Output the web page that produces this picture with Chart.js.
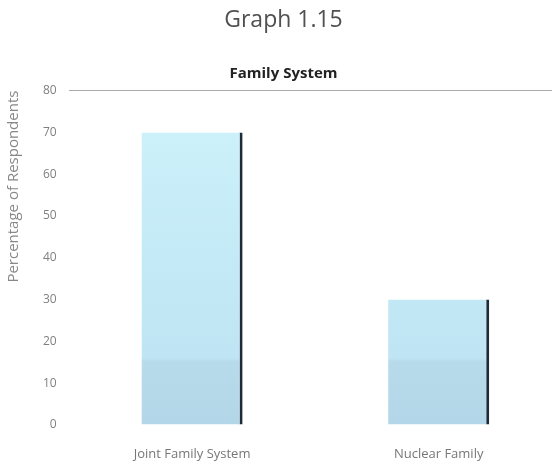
<!DOCTYPE html>
<html>
<head>
<meta charset="utf-8">
<script src="https://cdn.jsdelivr.net/npm/chart.js@4"></script>
<style>
  html, body { margin: 0; padding: 0; background: #ffffff; overflow: hidden; }
  #wrap { width: 552px; height: 466px; overflow: hidden; }
</style>
</head>
<body>
<div id="wrap"><canvas id="c" width="562" height="466"></canvas></div>
<script>
// Family system of respondents (percent)
const categories = ['Joint Family System', 'Nuclear Family'];
const percentages = [70, 30];
const yTicks = [0, 10, 20, 30, 40, 50, 60, 70, 80];

const FONT = '"Open Sans", "Liberation Sans", sans-serif';

// Soft pale-blue fill, slightly deeper toward the base
function barFill(ctx) {
  const area = ctx.chart.chartArea;
  if (!area) return '#c6ebf7';
  const g = ctx.chart.ctx.createLinearGradient(0, area.top, 0, area.bottom);
  g.addColorStop(0, '#cef3fc');
  g.addColorStop(0.55, '#c3e9f6');
  g.addColorStop(0.80, '#bfe4f3');
  g.addColorStop(0.81, '#b7dbeb');
  g.addColorStop(1, '#b3d7e8');
  return g;
}

new Chart(document.getElementById('c'), {
  type: 'bar',
  data: {
    labels: categories,
    datasets: [{
      data: percentages,
      backgroundColor: barFill,
      borderColor: '#1e2a36',
      borderWidth: { top: 0, left: 0, bottom: 0, right: 3 },
      borderSkipped: false,
      categoryPercentage: 1,
      barPercentage: 0.41
    }]
  },
  options: {
    responsive: false,
    animation: false,
    layout: { padding: { left: 5, right: 0, top: 0, bottom: 0 } },
    plugins: {
      legend: { display: false },
      tooltip: { enabled: false },
      title: {
        display: true,
        text: 'Graph 1.15',
        color: '#505050',
        font: { family: FONT, size: 23, weight: 'normal' },
        padding: { top: 7, bottom: 30 }
      },
      subtitle: {
        display: true,
        text: 'Family System',
        color: '#222222',
        font: { family: FONT, size: 15, weight: 'bold' },
        padding: { top: 0, bottom: 8 }
      }
    },
    scales: {
      x: {
        border: { display: false },
        grid: { display: false },
        afterFit: (s) => { s.height = 41; },
        ticks: {
          color: '#777777',
          padding: 13,
          maxRotation: 0,
          font: { family: FONT, size: 13 }
        }
      },
      y: {
        min: 0,
        max: 80,
        border: { display: false },
        afterBuildTicks: (scale) => { scale.ticks = yTicks.map(v => ({ value: v })); },
        grid: {
          drawTicks: false,
          color: (ctx) => (ctx.tick && ctx.tick.value === 80) ? '#ababab' : 'rgba(0,0,0,0)',
          lineWidth: 1
        },
        ticks: {
          color: '#808080',
          padding: 12,
          font: { family: FONT, size: 12 }
        },
        title: {
          display: true,
          text: 'Percentage of Respondents',
          align: 'end',
          color: '#888888',
          font: { family: FONT, size: 15 },
          padding: { top: 0, bottom: 8 }
        }
      }
    }
  }
});
</script>
</body>
</html>
